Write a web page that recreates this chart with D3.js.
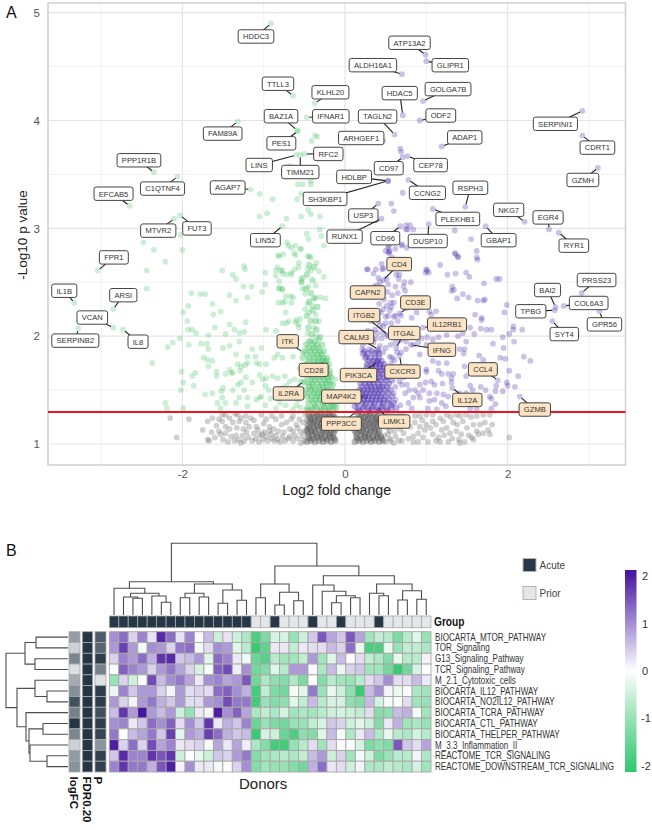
<!DOCTYPE html>
<html>
<head>
<meta charset="utf-8">
<script src="https://d3js.org/d3.v7.min.js"></script>
<style>
body { margin: 0; background: #fff; }
text { font-family: "Liberation Sans", Arial, sans-serif; }
</style>
</head>
<body>
<div id="chart"></div>
<script>
// panel A values, [log2 fold change, -log10 p]
var greyPoints = [[-2.15,1.24],[-1.92,1.23],[-2.07,1.06],[-1.69,1.21],[-1.63,1.24],[-1.75,1.13],[-1.64,1.11],[-1.69,1.04],[-1.67,1.03],[-1.51,1.27],[-1.47,1.27],[-1.55,1.23],[-1.51,1.21],[-1.42,1.24],[-1.32,1.27],[-1.22,1.26],[-1.16,1.24],[-1.38,1.20],[-1.30,1.21],[-1.22,1.20],[-1.18,1.16],[-1.47,1.16],[-1.55,1.12],[-1.53,1.09],[-1.47,1.10],[-1.36,1.03],[-1.28,1.01],[-1.24,1.03],[-1.34,1.08],[-1.26,1.08],[-1.14,1.03],[-1.12,1.10],[-1.05,1.08],[-.99,1.11],[-1.01,1.04],[-.97,1.07],[-.91,1.09],[-.87,1.03],[-.83,1.04],[-.77,1.07],[-.74,1.03],[-.68,1.07],[-.64,1.03],[-.64,1.12],[-.72,1.20],[-.85,1.23],[-.97,1.23],[-1.03,1.27],[-.56,1.23],[-.58,1.15],[-.52,1.07],[-.54,1.01],[-.46,1.15],[-.64,1.26],[-1.09,1.16],[-.93,1.16],
  [-1.58,1.17],[-1.60,1.06],[-1.50,1.04],[-1.42,1.14],[-1.40,1.07],[-1.44,1.02],[-1.33,1.15],[-1.31,1.04],[-1.25,1.14],[-1.21,1.11],[-1.19,1.06],[-1.10,1.05],[-1.07,1.13],[-1.06,1.02],[-1.02,1.09],[-.95,1.03],[-.93,1.12],[-.90,1.05],[-.88,1.14],[-.85,1.08],[-.82,1.12],[-.80,1.02],[-.78,1.18],[-.75,1.11],[-.70,1.05],[-.68,1.14],[-.66,1.23],[-.62,1.08],[-.60,1.18],[-.58,1.05],[-.55,1.11],[-.52,1.20],[-.50,1.03],[-.50,1.12],[-.49,1.27],[-1.12,1.22],[-1.00,1.19],[-.90,1.26],[-.78,1.26],[-1.28,1.24],[-1.35,1.28],
  [.92,1.26],[1.00,1.27],[1.08,1.27],[1.17,1.24],[1.25,1.27],[1.37,1.27],[1.49,1.27],[1.62,1.26],[1.70,1.27],[1.78,1.27],[.86,1.20],[.92,1.16],[.98,1.13],[1.08,1.21],[1.21,1.21],[1.33,1.20],[1.45,1.21],[1.58,1.18],[1.66,1.18],[1.81,1.18],[1.76,1.13],[1.08,1.09],[1.19,1.13],[1.29,1.10],[1.37,1.12],[1.43,1.09],[1.56,1.06],[1.58,1.04],[1.78,1.09],[2.02,1.06],[.90,1.02],[.84,1.07],[.84,1.02],[.96,1.06],[1.02,1.02],[1.17,1.02],[1.27,1.02],[1.41,1.01],[1.47,1.02],[1.64,1.09],[.80,1.16],[.76,1.23],[.86,1.26],[.52,1.26],[.58,1.20],[.63,1.25],[.55,1.12],[.62,1.07],[.70,1.03],[.68,1.14],[.72,1.26],[.56,1.03],
  [1.05,1.15],[1.12,1.18],[1.15,1.06],[1.22,1.08],[1.25,1.15],[1.32,1.05],[1.38,1.18],[1.40,1.04],[1.50,1.15],[1.52,1.08],[1.55,1.25],[1.62,1.12],[1.70,1.10],[1.72,1.20],[1.12,1.03],[.95,1.22],[1.00,1.18],[.90,1.10],[1.30,1.25],[1.42,1.26],[.48,1.08],[.52,1.15],[.50,1.22],[.55,1.05],[.58,1.28],[.61,1.12],[.65,1.18],[.66,1.03],[.72,1.10],[.74,1.20],[.78,1.05],[.50,1.02],[.47,1.20],[.53,1.09],[.60,1.01],[.70,1.22],[.67,1.27]];
var greyCore = [[-.47,1.02],[-.42,1.03],[-.37,1.02],[-.32,1.03],[-.27,1.02],[-.22,1.03],[-.17,1.02],[-.12,1.03],[-.45,1.07],[-.40,1.08],[-.35,1.07],[-.30,1.08],[-.25,1.07],[-.20,1.08],[-.15,1.07],[-.47,1.12],[-.42,1.13],[-.37,1.12],[-.32,1.13],[-.27,1.12],[-.22,1.13],[-.17,1.12],[-.12,1.13],[-.46,1.17],[-.40,1.18],[-.35,1.17],[-.30,1.18],[-.25,1.17],[-.20,1.18],[-.15,1.17],[-.46,1.22],[-.42,1.23],[-.37,1.22],[-.32,1.23],[-.27,1.22],[-.22,1.23],[-.17,1.22],[-.13,1.23],[-.45,1.27],[-.40,1.28],[-.35,1.27],[-.30,1.28],[-.25,1.27],[-.20,1.28],[-.15,1.27],
  [.12,1.02],[.17,1.03],[.22,1.02],[.27,1.03],[.32,1.02],[.37,1.03],[.42,1.02],[.47,1.03],[.14,1.07],[.19,1.08],[.24,1.07],[.29,1.08],[.34,1.07],[.39,1.08],[.44,1.07],[.12,1.12],[.17,1.13],[.22,1.12],[.27,1.13],[.32,1.12],[.37,1.13],[.42,1.12],[.14,1.17],[.19,1.18],[.24,1.17],[.29,1.18],[.34,1.17],[.39,1.18],[.45,1.17],[.14,1.22],[.18,1.23],[.23,1.22],[.28,1.23],[.33,1.22],[.38,1.23],[.42,1.22],[.16,1.27],[.21,1.28],[.26,1.27],[.31,1.28],[.36,1.27],[.41,1.28],
  [-.44,1.05],[-.39,1.05],[-.33,1.06],[-.28,1.05],[-.23,1.05],[-.18,1.06],[-.13,1.05],[-.45,1.10],[-.41,1.11],[-.36,1.10],[-.29,1.10],[-.24,1.11],[-.19,1.10],[-.14,1.10],[-.44,1.15],[-.38,1.15],[-.33,1.16],[-.28,1.15],[-.23,1.15],[-.18,1.16],[-.13,1.15],[-.43,1.20],[-.39,1.20],[-.34,1.21],[-.29,1.20],[-.24,1.20],[-.19,1.21],[-.14,1.20],[-.43,1.25],[-.38,1.25],[-.33,1.26],[-.28,1.25],[-.23,1.25],[-.18,1.26],[-.13,1.25],
  [.15,1.05],[.20,1.05],[.25,1.06],[.30,1.05],[.35,1.05],[.40,1.06],[.45,1.05],[.14,1.10],[.20,1.11],[.25,1.10],[.30,1.10],[.36,1.11],[.41,1.10],[.16,1.15],[.21,1.15],[.26,1.16],[.31,1.15],[.36,1.15],[.41,1.16],[.16,1.20],[.21,1.20],[.26,1.21],[.31,1.20],[.36,1.20],[.40,1.21],[.19,1.25],[.24,1.25],[.29,1.26],[.34,1.25],[.39,1.25]];
var downPoints = [[-2.21,2.69],[-2.44,2.61],[-2.44,2.44],[-2.37,1.75],[-2.03,1.98],[-2.18,1.90],[-2.12,1.94],[-1.92,1.92],[-1.99,2.22],[-1.94,2.14],[-1.93,2.28],[-1.89,2.40],[-1.78,2.39],[-1.72,2.39],[-1.93,2.06],[-1.88,2.06],[-1.83,2.03],[-1.63,2.30],[-1.62,2.20],[-1.53,2.23],[-1.60,2.08],[-1.68,2.01],[-1.77,1.93],[-1.70,1.93],[-1.68,1.88],[-1.74,1.80],[-1.69,1.78],[-1.63,1.77],[-1.68,1.72],[-1.58,1.67],[-1.58,1.63],[-2.01,1.67],[-1.99,1.57],[-1.88,1.63],[-1.84,1.66],[-1.86,1.54],[-2.02,1.50],[-2.21,1.38],[-2.19,1.33],[-1.99,1.33],[-1.72,1.46],[-1.63,1.47],[-1.52,1.49],[-1.50,1.52],[-1.57,1.38],[-1.51,1.43],[-1.47,1.38],[-1.53,1.33],[-1.38,1.50],[-1.32,1.55],[-1.28,1.57],[-1.24,1.50],[-1.20,1.43],[-1.05,1.43],[-1.09,1.41],[-1.20,1.35],[-1.34,1.38],[-1.30,1.43],[-1.42,1.69],[-1.40,1.66],[-1.47,1.65],[-1.34,1.83],[-1.32,1.74],[-1.23,1.73],[-1.20,1.75],[-1.29,1.68],[-1.14,1.88],[-1.20,1.81],[-1.28,1.72],[-1.42,2.38],[-1.34,2.33],[-1.20,2.36],[-1.15,2.46],[-1.25,2.46],[-1.51,2.61],[-1.38,2.57],[-1.34,2.53],[-1.24,2.65],[-1.23,2.62],[-.98,2.59],[-1.02,2.41],[-.85,2.61],[-.85,2.56],[-.77,2.61],[-.72,2.57],[-.66,2.57],[-.62,2.62],[-.54,2.53],[-.54,2.50],[-.77,2.43],[-.81,2.45],[-.74,2.32],[-.64,2.36],[-.66,2.31],[-.77,2.12],[-.72,2.12],[-.60,2.15],[-.85,2.05],[-.97,2.06],[-1.22,2.13],[-1.36,2.06],[-1.30,2.03],[-1.42,2.11],[-1.47,2.02],[-1.42,1.91],[-1.50,1.89],[-1.24,2.04],[-1.30,1.95],[-1.03,1.89],[-1.10,1.81],[-1.05,1.74],[-.97,1.74],[-1.09,1.75],[-.87,1.80],[-.83,1.83],[-.77,1.80],[-.64,1.81],[-.89,1.63],[-.83,1.61],[-.74,1.63],[-.68,1.58],[-1.01,1.60],[-.97,1.61],[-1.05,1.64],[-.98,1.54],[-1.03,1.44],[-.98,1.36],[-.85,1.33],[-.73,1.36],[-.64,1.32],[-.48,1.32],[-.58,1.41],[-.53,1.44],[-.79,1.44],[-1.14,1.57],[-1.22,1.62],[-1.38,1.66],
  [-1.05,3.32],[-.89,3.27],[-1.05,3.11],[-.96,3.14],[-.72,3.09],[-.59,3.27],[-.54,3.32],[-.58,3.41],[-.52,3.41],[-.42,3.41],[-.42,3.44],[-.45,3.17],[-.54,3.11],[-.42,3.13],[-.31,3.11],[-.31,2.99],[-.47,2.95],[-.45,2.90],[-.29,2.93],[-.26,2.84],[-.71,2.87],[-.61,2.84],[-.54,2.81],[-.70,2.84],[-.62,2.77],[-.81,2.74],[-.76,2.76],[-.46,2.74],[-.42,2.73],[-2.48,2.87],[-2.35,2.80],[-2.02,2.94],[-2.00,2.80],[-.37,3.86],[-.34,3.85],[-.41,3.81],[-.68,3.58],
  [-.66,2.82],[-.55,2.81],[-.82,2.75],[-.61,2.75],[-.44,2.74],[-.35,2.68],[-.57,2.68],[-.57,2.64],[-.46,2.62],[-.42,2.61],[-.83,2.64],[-.79,2.61],[-.77,2.58],[-.66,2.59],[-.52,2.54],[-.53,2.50],[-.32,2.60],[-.26,2.55],[-.45,2.46],[-.36,2.47],[-.52,2.44],[-.49,2.39],[-.36,2.36],[-.30,2.36],[-.24,2.35],[-.46,2.30],[-.40,2.28],[-.49,2.25],[-.44,2.22],[-.36,2.20],[-.32,2.14],[-.38,2.08],[-.55,2.16],[-.57,2.08],[-.46,2.03],[-.36,2.00],[-.32,1.97],[-.42,1.96],[-.77,2.44],[-.81,2.44],[-.73,2.37],[-.77,2.31],[-.82,2.31],[-.67,2.37],[-.73,2.22],[-.69,2.14],[-.61,2.13],[-.57,2.11],[-.81,2.51],[-.98,2.48]];
var downCore = [[-.46,1.33],[-.40,1.33],[-.35,1.33],[-.29,1.33],[-.24,1.33],[-.19,1.33],[-.14,1.33],[-.45,1.38],[-.39,1.38],[-.33,1.38],[-.27,1.38],[-.22,1.38],[-.17,1.38],[-.13,1.38],[-.47,1.44],[-.41,1.44],[-.35,1.44],[-.30,1.44],[-.25,1.44],[-.19,1.44],[-.15,1.44],[-.48,1.50],[-.42,1.50],[-.37,1.50],[-.31,1.50],[-.26,1.50],[-.21,1.50],[-.16,1.50],[-.45,1.56],[-.40,1.56],[-.34,1.56],[-.28,1.56],[-.23,1.56],[-.18,1.56],[-.46,1.62],[-.39,1.62],[-.33,1.62],[-.27,1.62],[-.21,1.62],[-.17,1.62],[-.47,1.68],[-.42,1.68],[-.36,1.68],[-.30,1.68],[-.25,1.68],[-.19,1.68],[-.48,1.74],[-.41,1.74],[-.35,1.74],[-.30,1.74],[-.24,1.74],[-.20,1.74],[-.52,1.80],[-.44,1.80],[-.38,1.80],[-.32,1.80],[-.27,1.80],[-.22,1.80],[-.50,1.86],[-.43,1.86],[-.37,1.86],[-.31,1.86],[-.26,1.86],[-.48,1.92],[-.40,1.92],[-.34,1.92],[-.28,1.92],
  [-.43,1.31],[-.37,1.35],[-.31,1.31],[-.26,1.35],[-.21,1.31],[-.16,1.35],[-.11,1.33],[-.42,1.41],[-.36,1.41],[-.31,1.41],[-.24,1.41],[-.19,1.41],[-.13,1.42],[-.45,1.47],[-.38,1.47],[-.33,1.47],[-.28,1.47],[-.22,1.47],[-.17,1.47],[-.44,1.53],[-.39,1.53],[-.32,1.53],[-.27,1.53],[-.22,1.53],[-.15,1.55],[-.50,1.57],[-.42,1.59],[-.37,1.59],[-.31,1.59],[-.25,1.59],[-.20,1.59],[-.43,1.65],[-.36,1.65],[-.30,1.65],[-.24,1.65],[-.19,1.65],[-.44,1.71],[-.39,1.71],[-.33,1.71],[-.27,1.71],[-.22,1.71],[-.45,1.77],[-.38,1.77],[-.33,1.77],[-.28,1.77],[-.23,1.77],[-.47,1.83],[-.40,1.83],[-.34,1.83],[-.29,1.83],[-.45,1.89],[-.39,1.89],[-.33,1.89],[-.44,1.95],[-.37,1.95],[-.31,1.99],[-.41,2.02],[-.35,2.06],[-.45,2.08],[-.42,2.14],[-.36,2.14],[-.47,2.19],[-.40,2.24],[-.34,2.27],[-.44,2.32],[-.38,2.35],[-.48,2.44],[-.42,2.40],[-.40,2.52],[-.47,2.57],[-.38,2.64],[-.44,2.66]];
var downFringe = [[-.10,1.48],[-.12,1.60],[-.10,1.37],[-.56,1.70],[-.55,1.58],[-.58,1.50],[-.60,1.36],[-.55,1.34],[-.57,1.44],[-.62,1.60],[-.65,1.44],[-.70,1.48],[-.72,1.54],[-.77,1.52],[-.80,1.38],[-.85,1.47],[-.92,1.42],[-.94,1.50]];
var upPoints = [[.28,2.62],[.35,2.58],[.45,2.67],[.47,2.63],[.41,2.54],[.51,2.53],[.53,2.48],[.63,2.57],[.67,2.57],[.72,2.46],[.81,2.50],[.74,2.42],[.60,2.31],[.56,2.31],[.62,2.19],[.69,2.19],[.82,2.17],[.88,2.22],[1.04,2.23],[1.12,2.23],[1.06,2.20],[1.23,2.15],[1.00,2.62],[.99,2.59],[1.03,2.59],[1.17,2.66],[1.26,2.57],[1.36,2.58],[1.49,2.59],[1.53,2.55],[1.35,2.77],[1.39,2.74],[1.63,2.71],[1.62,2.79],[1.71,2.49],[1.32,2.46],[1.34,2.43],[1.31,2.42],[1.45,2.39],[1.38,2.35],[1.52,2.36],[1.63,2.33],[1.70,2.33],[1.72,2.34],[1.86,2.53],[1.90,2.53],[1.99,2.29],[1.96,2.22],[1.60,2.20],[1.68,2.17],[1.68,2.15],[1.54,2.08],[1.59,2.02],[1.67,2.07],[1.74,2.06],[1.80,2.06],[2.07,2.09],[2.07,2.06],[2.18,2.06],[1.94,1.99],[2.02,2.02],[1.82,1.93],[1.95,1.89],[2.08,1.95],[2.20,1.81],[2.28,1.77],[1.91,1.80],[1.97,1.79],[2.02,1.68],[2.13,1.63],[2.09,1.53],[1.99,1.57],[2.00,1.54],[1.94,1.49],[1.86,1.54],[1.85,1.49],[1.78,1.44],[1.80,1.42],[1.85,1.37],[1.80,1.33],[1.67,1.53],[1.73,1.50],[1.54,1.54],[1.57,1.50],[1.62,1.44],[1.65,1.66],[1.56,1.72],[1.47,1.72],[1.65,1.82],[1.70,1.78],[1.46,1.84],[1.47,1.88],[1.49,1.95],[1.41,1.88],[1.39,2.00],[1.45,2.03],[1.25,2.01],[1.15,1.99],[1.08,1.97],[1.01,1.99],[1.00,1.92],[.92,1.83],[1.08,1.77],[1.15,1.75],[1.25,1.75],[1.00,1.69],[1.00,1.67],[1.15,1.68],[1.19,1.65],[1.27,1.65],[1.33,1.65],[1.31,1.61],[1.49,1.63],[1.06,1.58],[.99,1.57],[.92,1.55],[1.10,1.55],[1.20,1.56],[1.31,1.57],[.86,1.50],[.90,1.47],[.96,1.50],[1.04,1.47],[1.13,1.47],[1.21,1.46],[1.27,1.44],[1.41,1.47],[1.49,1.47],[.79,1.50],[.84,1.43],[1.04,1.40],[1.10,1.41],[1.19,1.38],[1.24,1.35],[1.41,1.38],[1.54,1.33],[1.62,1.33],[1.02,1.33],[1.13,1.32],[.92,1.43],[.74,1.47],[.78,1.38],[.82,1.33],[.76,1.55],[.67,1.58],
  [.28,2.05],[.22,1.92],[.21,1.88],[.26,1.81],[.30,1.88],[.34,1.97],[.37,2.06],[.32,2.14],[.41,2.14],[.47,2.25],[.47,2.09],[.51,2.28],[.57,2.27],[.76,2.26],[.53,2.19],[.57,2.12],[.65,2.14],[.75,1.95],[.84,1.92],[.90,1.94],[.94,1.98],[.75,1.88],[.69,1.85],[.74,1.72],[.80,1.71],[.55,1.81],[.57,1.75],[.61,1.78],[.35,1.94],[.43,1.91],[.47,1.85],
  [.68,3.74],[.69,3.71],[.71,3.33],[.57,3.23],[.60,3.16],[.75,3.03],[.77,2.99],[.75,2.99],[.84,2.99],[.80,3.03],[1.35,2.98],[1.55,2.90],[.70,2.85],[.76,2.82],[.53,2.82],[.55,2.79],[.54,2.77],[1.36,2.76],[1.39,2.73],[1.62,2.73],[.50,2.79],[.54,2.84],[.62,2.81],[.70,2.84],[.38,2.62],[.27,2.62],[1.01,2.61],[.54,2.78],[.58,2.73],[.46,2.62],[.66,2.53],[.73,2.50],
  [.58,1.80],[.64,1.85],[.50,1.89],[.56,1.92],[.62,1.94],[.68,1.96],[.30,1.95],[.38,1.98],[.45,1.98],[.52,2.00],[.58,2.02],[.40,2.03],[.33,2.04],[.47,2.03],[.62,2.06],[.72,2.05],[.43,2.10],[.50,2.12],[.60,2.18],[.37,2.20],[.44,2.22],[.50,2.18],[.55,2.24],[.42,2.30],[.48,2.34],[.58,2.38],[.52,2.41],[.65,2.40],[.45,2.45],[.62,2.46],[.43,2.50],[.36,2.46],[.60,1.68],[.65,1.63],[.70,1.55],[.66,1.71],[.72,1.62],[.62,1.53],[.60,1.47],[.68,1.36],[.62,1.41]];
var upCore = [[.16,1.33],[.22,1.33],[.28,1.33],[.33,1.33],[.39,1.33],[.45,1.33],[.51,1.33],[.57,1.33],[.63,1.33],[.15,1.38],[.21,1.38],[.26,1.38],[.31,1.38],[.36,1.38],[.42,1.38],[.47,1.38],[.53,1.38],[.60,1.38],[.19,1.44],[.24,1.44],[.29,1.44],[.34,1.44],[.39,1.44],[.44,1.44],[.50,1.44],[.58,1.44],[.18,1.50],[.23,1.50],[.28,1.50],[.33,1.50],[.38,1.50],[.43,1.50],[.49,1.50],[.56,1.50],[.19,1.56],[.25,1.56],[.30,1.56],[.35,1.56],[.41,1.56],[.47,1.56],[.54,1.56],[.26,1.62],[.31,1.62],[.37,1.62],[.42,1.62],[.48,1.62],[.52,1.62],[.29,1.68],[.34,1.68],[.39,1.68],[.44,1.68],[.50,1.68],[.27,1.74],[.33,1.74],[.38,1.74],[.43,1.74],[.48,1.74],[.25,1.80],[.31,1.80],[.37,1.80],[.42,1.80],[.24,1.86],[.33,1.86],[.40,1.86],
  [.18,1.31],[.24,1.35],[.30,1.31],[.35,1.35],[.41,1.31],[.46,1.35],[.52,1.31],[.57,1.36],[.12,1.35],[.18,1.41],[.23,1.41],[.28,1.41],[.33,1.41],[.38,1.41],[.43,1.41],[.48,1.41],[.54,1.41],[.16,1.47],[.21,1.47],[.26,1.47],[.31,1.47],[.36,1.47],[.41,1.47],[.46,1.47],[.53,1.47],[.21,1.53],[.27,1.53],[.32,1.53],[.37,1.53],[.42,1.53],[.46,1.53],[.52,1.53],[.22,1.59],[.28,1.59],[.33,1.59],[.39,1.59],[.44,1.59],[.51,1.59],[.58,1.59],[.24,1.65],[.30,1.65],[.36,1.65],[.41,1.65],[.46,1.65],[.27,1.71],[.33,1.71],[.38,1.71],[.43,1.71],[.47,1.71],[.29,1.77],[.35,1.77],[.40,1.77],[.45,1.77],[.22,1.84],[.28,1.84],[.36,1.84],[.42,1.84]];

var genesDown = ["HDDC3","TTLL3","KLHL20","IFNAR1","BAZ1A","PES1","FAM89A","RFC2","LINS","TIMM21","PPP1R1B","C1QTNF4","EFCAB5","AGAP7","MTVR2","FUT3","LIN52","FPR1","IL1B","ARSI","VCAN","SERPINB2","IL8"];
var genesDownFC = [-.91,-.64,-.37,-.47,-.59,-.58,-1.32,-.50,-.60,-.55,-2.35,-2.06,-2.65,-1.16,-2.10,-2.03,-.77,-3.04,-3.33,-2.85,-2.85,-3.28,-2.73];
var genesDownP = [4.90,4.23,4.16,4.03,3.91,3.90,3.99,3.69,3.68,3.68,3.52,3.48,3.21,3.36,3.09,3.12,3.02,2.61,2.31,2.25,2.08,2.07,2.06];
var genesUp = ["ATP13A2","GLIPR1","ALDH16A1","GOLGA7B","HDAC5","TAGLN2","ODF2","ARHGEF1","ADAP1","CEP78","CD97","HDLBP","SH3KBP1","CCNG2","RSPH3","PLEKHB1","USP3","RUNX1","CD96","DUSP10","GBAP1","NKG7","EGR4","RYR1","SERPINI1","CDRT1","GZMH","BAI2","PRSS23","COL6A3","TPBG","SYT4","GPR56"];
var genesUpFC = [.99,1.00,.70,.96,.71,.61,.92,.47,1.19,.77,.71,.53,.53,.78,1.48,1.08,.41,.45,.68,1.03,1.73,2.21,2.51,2.63,2.92,2.92,3.11,2.59,2.91,2.69,2.58,2.55,3.13];
var genesUpP = [4.61,4.55,4.43,4.18,4.05,3.87,4.00,3.81,3.76,3.67,3.66,3.44,3.44,3.45,3.20,3.18,3.23,3.09,3.02,3.04,3.02,3.06,2.99,2.96,4.09,3.86,3.56,2.27,2.40,2.28,2.24,2.14,2.23];
// highlighted T cell genes
var genesTcell = ["ITK","CD28","IL2RA","CD4","CAPN2","CD3E","ITGB2","IL12RB1","ITGAL","CALM3","IFNG","CXCR3","PIK3CA","CCL4","IL12A","GZMB","MAP4K2","PPP3CC","LIMK1"];
var genesTcellFC = [-.52,-.25,-.51,.47,.39,.67,.53,.96,.63,.41,.81,.67,.40,1.88,1.32,2.15,.25,.14,.42];
var genesTcellP = [1.85,1.77,1.58,2.52,2.47,2.21,2.01,2.08,1.89,1.88,1.92,1.82,1.76,1.59,1.52,1.44,1.44,1.30,1.31];

// where the repelled label sits relative to its point, px
var labelNudge = {
  HDDC3:[-15,13],TTLL3:[-15,-12],KLHL20:[15.5,-11],IFNAR1:[24,-1],BAZ1A:[-16,-14],PES1:[-16.5,12],FAM89A:[-15,12],RFC2:[24,0],LINS:[-37,10],TIMM21:[0,17],
  PPP1R1B:[-15,-12],C1QTNF4:[-15,12],EFCAB5:[-16,-12],AGAP7:[-23,-2],SH3KBP1:[-63,18],MTVR2:[-16,12],FUT3:[17,13],LIN52:[-17,14],FPR1:[16,-13],IL1B:[-10,-12],
  ARSI:[10,-14],VCAN:[-21,-10],SERPINB2:[-3,12],IL8:[15,12],ITK:[-15,-11],CD28:[-11,9],IL2RA:[-15,12],ATP13A2:[-16,-12],GLIPR1:[24,4],ALDH16A1:[-29,-9],
  GOLGA7B:[25,-12],HDAC5:[-3,-22],TAGLN2:[-17,-18],ODF2:[21,-5],ARHGEF1:[-22,-3],ADAP1:[23,-9],CEP78:[23,9],CD97:[-14,11],HDLBP:[-34,-4],CCNG2:[19,13],
  RSPH3:[5,-19],PLEKHB1:[25,10],USP3:[-15,12],RUNX1:[-37,18],CD96:[-15,12],DUSP10:[-1,17],GBAP1:[13,14],NKG7:[-16,-12],EGR4:[-1,-12],RYR1:[15,13],
  SERPINI1:[-27,13],CDRT1:[15,12],GZMH:[-15,12],BAI2:[-8,-17],PRSS23:[15,-13],COL6A3:[25,-3],TPBG:[-24,1],SYT4:[12,13],GPR56:[5,13],CD4:[16,-16],
  CAPN2:[-9,7],CD3E:[16,-11],ITGB2:[-24,-20],IL12RB1:[24,-3],ITGAL:[8,-15],CALM3:[-22,-12],IFNG:[31,5],CXCR3:[3,16],PIK3CA:[-19,13],CCL4:[-15,-11],
  IL12A:[15,12],GZMB:[15,13],MAP4K2:[-24,0],PPP3CC:[-15,12],LIMK1:[15,11]
};

// panel B values
var pathways = ["BIOCARTA_MTOR_PATHWAY","TOR_Signaling","G13_Signaling_Pathway","TCR_Signaling_Pathway","M_2.1_Cytotoxic_cells","BIOCARTA_IL12_PATHWAY","BIOCARTA_NO2IL12_PATHWAY","BIOCARTA_TCRA_PATHWAY","BIOCARTA_CTL_PATHWAY","BIOCARTA_THELPER_PATHWAY","M_3.3_Inflammation_II","REACTOME_TCR_SIGNALING","REACTOME_DOWNSTREAM_TCR_SIGNALING"];
var heatValues = [
  [1,1.3,.4,1.1,.25,1.9,1.3,.25,1.1,.05,.6,-.5,.25,-.5,-.8,-1.8,-1.3,-.4,-.4,-1,-.5,.5,1.5,.8,.5,1.5,.8,-.9,-.6,-.7,-1.3,-.7,-.3,-1],
  [.9,1.7,.9,-.15,1,.9,.4,1.2,1.3,-.15,.3,1,.9,-.3,-.7,-2,-1.6,.2,.2,-.6,.2,.3,.3,.6,.4,1.3,-.2,-1.8,-1.8,-.2,-1,-.6,-.6,-.8],
  [.4,1.1,.9,1.3,.7,1.8,1.9,.5,.6,.9,-.3,1.3,1.1,.2,-.15,-1.5,-1.7,-.7,-.9,-.9,-.6,.9,-.9,-.3,.6,0,.3,-.6,-.8,-1.2,-.2,-.7,-.7,.1],
  [-.05,1.4,1.1,.9,.4,.9,1.2,.8,.4,-.4,-.05,1.4,1.6,.15,1,-1.4,-1.2,-.3,-.7,.9,.9,.05,-.8,.6,-.2,.4,.5,-.9,-.9,-1.4,-2,-1.4,-.4,0],
  [-1,.4,-.5,-.02,1.6,.6,1,1.2,.8,.2,1,1.1,.8,.9,1.5,-1.4,-.8,-1.1,-1.2,-.8,-1.3,0,-1.2,-.7,-.9,-1,-.7,.3,.5,1,.3,.3,.6,.2],
  [-.2,1.1,.5,.9,.9,.4,.1,.9,.3,.4,.3,1.3,1.4,1,.7,-1.9,-.6,-1.3,-1.4,-.1,-.3,1.2,-1,-.2,-.5,-1.1,-2,.6,1,.1,-.2,.05,-.8,-.9],
  [.9,.4,.1,.9,1.2,.7,.5,.9,.3,.3,.9,1,1.6,1.2,1.2,-1.9,-1,-1.2,-1.1,-.3,-.6,.6,-.7,-.4,-.4,-1.1,-1.2,.6,-.4,-.1,-.03,.3,-.9,-1],
  [.6,1.8,.9,2.1,.9,.6,.9,-.5,-1,.2,.1,2,1,1.4,.8,-.8,-.6,-.8,-.4,-.9,-.8,-.9,-.7,-.5,-.4,-.5,-.6,.3,-1.2,-1.1,.6,.7,-.1,-.9],
  [1,1.1,.2,.5,1.3,1,1.4,.3,1,.5,1.8,.2,.7,.5,1.1,-1.5,-1,-1.3,-1.4,-1,-1,-.6,-.4,.5,.4,-.5,-.3,-.5,-1.2,.2,.7,-.9,-.8,-1],
  [1.2,-.02,.6,.8,1.2,.5,1.7,-.3,.9,.7,1.7,1.3,.7,.5,.6,-2,-.4,-.5,-1.5,-1.8,-1.1,-1.2,-.3,.6,-.1,-.8,.2,.6,-.8,-.2,-.7,-.8,-.4,-.7],
  [2,.4,1.3,.4,1.6,.8,1.1,.2,.3,.4,-.1,.8,.2,.8,.15,-.8,-1.2,-1.9,-1.9,-1,-.7,.3,-.9,.3,.02,.02,-.4,-1.3,-1.1,-1.2,1.5,.5,.3,.8],
  [.5,1.9,1.1,1.1,1.8,1.5,1.8,-.5,0,-.2,-.5,.5,.4,.9,1.2,-1.2,-.9,-.8,-.7,-.8,-.6,.6,.9,-.5,.4,-.9,-.1,-.5,-1.3,-1,-.7,-.7,.1,-.8],
  [1.1,1.8,1.2,1.2,.7,1.5,2,.1,1,.2,.2,-.1,0,.4,1,-1.2,-.9,-1,-1,-1.2,-1.4,.7,1.3,.2,.3,-.5,.1,-.8,-.8,-.6,-.7,-.8,-.4,-.9]
];
var donorGroups = ["Acute","Acute","Acute","Acute","Acute","Acute","Acute","Acute","Acute","Acute","Acute","Acute","Acute","Acute","Acute","Prior","Prior","Acute","Prior","Prior","Prior","Acute","Prior","Prior","Acute","Prior","Prior","Prior","Acute","Prior","Prior","Prior","Prior","Prior"];
var rowLogFC = [.45,.18,.58,.1,.38,.53,.85,.6,1,.58,.18,.46,.51];
var rowFDR = [1,1,1,1,1,1,1,1,1,1,1,1,1];
var rowP = [.8,.75,.96,.6,.09,.96,.96,.86,.96,.92,.5,.94,.94];
var legendGroups = ["Acute","Prior"];
var colourTicks = [2,1,0,-1,-2];

// clustering, [height, left, right], ints are leaf indexes
var donorTree = [71.7,
  [33.3,
    [26.7,0,[21.7,[18,1,[16.7,2,3]],[19,4,[12.7,5,6]]]],
    [31,[21.7,[17.3,7,8],[18,9,10]],[25,[11.7,11,12],[14.7,13,14]]]],
  [49,
    [31,[17.3,15,16],[22.7,[10,17,18],[14.3,19,20]]],
    [39.3,
      [30,21,[23.7,22,[19.3,[12.3,23,24],[17.3,25,26]]]],
      [31,[21.7,27,[19.3,28,29]],[24.3,[15,30,31],[15.7,32,33]]]]]];
var pathwayTree = [62,[43,[32,0,1],[33,2,3]],[51,[33,4,[21,5,6]],[42,7,[39,[25,8,9],[38,10,[21,11,12]]]]]];

var svgWidth = 652;
var svgHeight = 830;

var svg = d3.select("#chart").append("svg")
  .attr("width", svgWidth)
  .attr("height", svgHeight)
  .style("display", "block");

// ---- panel A: volcano ----
var xScale = d3.scaleLinear().domain([-3.653, 3.45]).range([48, 625.5]);
var yScale = d3.scaleLinear().domain([0.805, 5.09]).range([465, 3]);

var grid = svg.append("g");
[-3, -1, 1, 3].forEach(function(v) {
  grid.append("line").attr("x1", xScale(v)).attr("x2", xScale(v)).attr("y1", 3).attr("y2", 465)
    .attr("stroke", "#eeeeee").attr("stroke-width", 0.8);
});
[1.5, 2.5, 3.5, 4.5].forEach(function(v) {
  grid.append("line").attr("x1", 48).attr("x2", 625.5).attr("y1", yScale(v)).attr("y2", yScale(v))
    .attr("stroke", "#eeeeee").attr("stroke-width", 0.8);
});
[-2, 0, 2].forEach(function(v) {
  grid.append("line").attr("x1", xScale(v)).attr("x2", xScale(v)).attr("y1", 3).attr("y2", 465)
    .attr("stroke", "#e4e4e4").attr("stroke-width", 1.2);
});
[1, 2, 3, 4, 5].forEach(function(v) {
  grid.append("line").attr("x1", 48).attr("x2", 625.5).attr("y1", yScale(v)).attr("y2", yScale(v))
    .attr("stroke", "#e4e4e4").attr("stroke-width", 1.2);
});

function drawPoints(points, colour, opacity, r) {
  svg.append("g").selectAll("circle")
    .data(points)
    .enter()
    .append("circle")
    .attr("cx", function(d) { return xScale(d[0]); })
    .attr("cy", function(d) { return yScale(d[1]); })
    .attr("r", r)
    .attr("fill", colour)
    .attr("opacity", opacity);
}

function toPoints(xs, ys) {
  return xs.map(function(x, i) { return [x, ys[i]]; });
}

var greyFill = "#555555", downFill = "#3fbf5f", upFill = "#3c1fa5";

drawPoints(greyPoints, greyFill, 0.28, 2.9);
drawPoints(greyCore, greyFill, 0.42, 3.2);
drawPoints(downPoints, downFill, 0.27, 2.9);
drawPoints(downFringe, downFill, 0.27, 2.9);
drawPoints(downCore, downFill, 0.38, 3.2);
drawPoints(toPoints(genesDownFC, genesDownP), downFill, 0.27, 2.9);
drawPoints(toPoints(genesTcellFC.slice(0, 3), genesTcellP.slice(0, 3)), downFill, 0.27, 2.9);
drawPoints(upPoints, upFill, 0.27, 2.9);
drawPoints(upCore, upFill, 0.36, 3.2);
drawPoints(toPoints(genesUpFC, genesUpP), upFill, 0.27, 2.9);
drawPoints(toPoints(genesTcellFC.slice(3), genesTcellP.slice(3)), upFill, 0.27, 2.9);

svg.append("rect")
  .attr("x", 48).attr("y", 3)
  .attr("width", 577.5).attr("height", 462)
  .attr("fill", "none")
  .attr("stroke", "#cfcfcf")
  .attr("stroke-width", 1.5);

var leftAxis = d3.axisLeft(yScale).tickValues([1, 2, 3, 4, 5]).tickFormat(d3.format("d")).tickSize(0).tickPadding(8);
var bottomAxis = d3.axisBottom(xScale).tickValues([-2, 0, 2]).tickFormat(function(d) { return d; }).tickSize(0).tickPadding(5);

var yAxisGroup = svg.append("g").attr("transform", "translate(48,0)").call(leftAxis);
var xAxisGroup = svg.append("g").attr("transform", "translate(0,465)").call(bottomAxis);
yAxisGroup.select(".domain").remove();
xAxisGroup.select(".domain").remove();
svg.selectAll(".tick text").attr("font-size", "11.5px").attr("fill", "#555555")
  .style("font-family", '"Liberation Sans", Arial, sans-serif');

// threshold p = 0.05
svg.append("line")
  .attr("x1", 48).attr("x2", 625.5)
  .attr("y1", yScale(1.297)).attr("y2", yScale(1.297))
  .attr("stroke", "#f2121f")
  .attr("stroke-width", 2);

svg.append("text")
  .attr("x", 336.7).attr("y", 495)
  .attr("text-anchor", "middle")
  .attr("font-size", "14.2px")
  .attr("fill", "#222")
  .text("Log2 fold change");

svg.append("text")
  .attr("transform", "translate(27,235) rotate(-90)")
  .attr("text-anchor", "middle")
  .attr("font-size", "13.5px")
  .attr("fill", "#222")
  .text("-Log10 p value");

svg.append("text").attr("x", 6).attr("y", 18).attr("font-size", "16px").attr("fill", "#111").text("A");
svg.append("text").attr("x", 6).attr("y", 556).attr("font-size", "16px").attr("fill", "#111").text("B");

function geneRows(names, fc, p, fill) {
  return names.map(function(name, i) {
    return { name: name, fc: fc[i], p: p[i], fill: fill };
  });
}

var geneLabels = geneRows(genesDown, genesDownFC, genesDownP, "#ffffff")
  .concat(geneRows(genesUp, genesUpFC, genesUpP, "#ffffff"))
  .concat(geneRows(genesTcell, genesTcellFC, genesTcellP, "#fbe3c4"));

var labelLayer = svg.append("g");
geneLabels.forEach(function(d) {
  var px = xScale(d.fc), py = yScale(d.p);
  var nudge = labelNudge[d.name];
  var cx = px + nudge[0], cy = py + nudge[1];
  // stop the segment just short of the point
  var len = Math.sqrt(nudge[0] * nudge[0] + nudge[1] * nudge[1]);
  var stop = 2.5 / len;
  labelLayer.append("line")
    .attr("x1", cx).attr("y1", cy)
    .attr("x2", px + nudge[0] * stop).attr("y2", py + nudge[1] * stop)
    .attr("stroke", "#222")
    .attr("stroke-width", 1.1);
  var g = labelLayer.append("g").attr("transform", "translate(" + cx + "," + cy + ")");
  var box = g.append("rect");
  var label = g.append("text")
    .attr("text-anchor", "middle")
    .attr("y", 2.8)
    .attr("font-size", "7.6px")
    .attr("fill", "#333")
    .text(d.name);
  var w = label.node().getComputedTextLength() + 9.5;
  box.attr("x", -w / 2).attr("y", -6.7)
    .attr("width", w).attr("height", 13.4)
    .attr("rx", 2.2)
    .attr("fill", d.fill)
    .attr("stroke", "#444")
    .attr("stroke-width", 1);
});

// ---- panel B: heatmap ----
var donorIdx = d3.range(heatValues[0].length);
var pathwayIdx = d3.range(pathways.length);
var colX = d3.scaleBand().domain(donorIdx).range([109.3, 431]);
var rowY = d3.scaleBand().domain(pathwayIdx).range([631.7, 772]);
var heatColour = d3.scaleLinear()
  .domain([-2.13, -1, 0, 1, 2.13])
  .range(["#2ec76d", "#97e2b6", "#ffffff", "#a48ed4", "#45109f"]);
var annotColour = d3.scaleLinear().domain([0, 1]).range(["#f2f3f5", "#243645"]);
var groupColour = d3.scaleOrdinal().domain(legendGroups).range(["#263848", "#e4e7ea"]);

var heat = svg.append("g");
heatValues.forEach(function(row, r) {
  heat.selectAll(".r" + r)
    .data(row)
    .enter()
    .append("rect")
    .attr("class", "r" + r)
    .attr("x", function(d, c) { return colX(c); })
    .attr("y", rowY(r))
    .attr("width", colX.bandwidth())
    .attr("height", rowY.bandwidth())
    .attr("fill", function(d) { return heatColour(d); })
    .attr("stroke", "#a8a8a8")
    .attr("stroke-width", 0.9);
});

svg.append("g").selectAll("rect")
  .data(donorGroups)
  .enter()
  .append("rect")
  .attr("x", function(d, i) { return colX(i); })
  .attr("y", 616)
  .attr("width", colX.bandwidth())
  .attr("height", 11.7)
  .attr("fill", function(d) { return groupColour(d); })
  .attr("stroke", "#a8a8a8")
  .attr("stroke-width", 0.8);

[[rowLogFC, 69, 11], [rowFDR, 82.3, 10.4], [rowP, 95, 11]].forEach(function(a) {
  svg.append("g").selectAll("rect")
    .data(a[0])
    .enter()
    .append("rect")
    .attr("x", a[1])
    .attr("y", function(d, i) { return rowY(i); })
    .attr("width", a[2])
    .attr("height", rowY.bandwidth())
    .attr("fill", function(d) { return annotColour(d); })
    .attr("stroke", "#a8a8a8")
    .attr("stroke-width", 0.8);
});

// dendrograms
var donorHeight = d3.scaleLinear().domain([0, 72]).range([615, 543]);
var pathwayHeight = d3.scaleLinear().domain([0, 62]).range([68, 6]);
var dendro = svg.append("g").attr("fill", "none").attr("stroke", "#4d4d4d").attr("stroke-width", 1.1);

function drawDonorTree(node) {
  if (typeof node === "number") return { pos: colX(node) + colX.bandwidth() / 2, h: 0 };
  var a = drawDonorTree(node[1]), b = drawDonorTree(node[2]);
  var top = donorHeight(node[0]);
  dendro.append("path").attr("d",
    "M" + a.pos + "," + donorHeight(a.h) + "V" + top + "H" + b.pos + "V" + donorHeight(b.h));
  return { pos: (a.pos + b.pos) / 2, h: node[0] };
}

function drawPathwayTree(node) {
  if (typeof node === "number") return { pos: rowY(node) + rowY.bandwidth() / 2, h: 0 };
  var a = drawPathwayTree(node[1]), b = drawPathwayTree(node[2]);
  var left = pathwayHeight(node[0]);
  dendro.append("path").attr("d",
    "M" + pathwayHeight(a.h) + "," + a.pos + "H" + left + "V" + b.pos + "H" + pathwayHeight(b.h));
  return { pos: (a.pos + b.pos) / 2, h: node[0] };
}

drawDonorTree(donorTree);
drawPathwayTree(pathwayTree);

// the original row labels are a condensed face, squeeze them sideways
svg.append("g").selectAll("text")
  .data(pathways)
  .enter()
  .append("text")
  .attr("transform", function(d, i) {
    return "translate(435," + (rowY(i) + rowY.bandwidth() / 2 + 3.6) + ") scale(0.81,1)";
  })
  .attr("font-size", "10px")
  .attr("fill", "#333")
  .text(function(d) { return d; });

svg.append("text")
  .attr("transform", "translate(434,625.5) scale(0.78,1)")
  .attr("font-size", "13px")
  .attr("font-weight", "bold")
  .attr("fill", "#111")
  .text("Group");

svg.append("text").attr("x", 239).attr("y", 789).attr("font-size", "15px").attr("fill", "#222").text("Donors");

[["logFC", 69.5], ["FDR0.20", 83], ["P", 94]].forEach(function(a) {
  svg.append("text")
    .attr("transform", "translate(" + a[1] + ",776.5) rotate(90)")
    .attr("font-size", "11.5px")
    .attr("font-weight", "bold")
    .attr("fill", "#111")
    .text(a[0]);
});

// group legend
var legendY = d3.scalePoint().domain(legendGroups).range([565, 593]);
legendGroups.forEach(function(g) {
  svg.append("rect")
    .attr("x", 523).attr("y", legendY(g) - 6.5)
    .attr("width", 13).attr("height", 13)
    .attr("fill", groupColour(g))
    .attr("stroke", "#b5b5b5");
  svg.append("text")
    .attr("x", 539.5).attr("y", legendY(g) + 3.5)
    .attr("font-size", "10px")
    .attr("fill", "#444")
    .text(g);
});

// colour bar
var barScale = d3.scaleLinear().domain([-2.13, 2.13]).range([772, 570]);
var defs = svg.append("defs");
var grad = defs.append("linearGradient").attr("id", "heatBar")
  .attr("x1", 0).attr("y1", 1).attr("x2", 0).attr("y2", 0);
heatColour.domain().forEach(function(v) {
  grad.append("stop")
    .attr("offset", ((v + 2.13) / 4.26 * 100) + "%")
    .attr("stop-color", heatColour(v));
});
svg.append("rect")
  .attr("x", 625).attr("y", 570)
  .attr("width", 11.5).attr("height", 202)
  .attr("fill", "url(#heatBar)");
svg.append("g").selectAll("text")
  .data(colourTicks)
  .enter()
  .append("text")
  .attr("x", function(d) { return d < 0 ? 641 : 642; })
  .attr("y", function(d) { return barScale(d) + 4; })
  .attr("font-size", "11px")
  .attr("fill", "#333")
  .text(function(d) { return d; });
</script>
</body>
</html>
